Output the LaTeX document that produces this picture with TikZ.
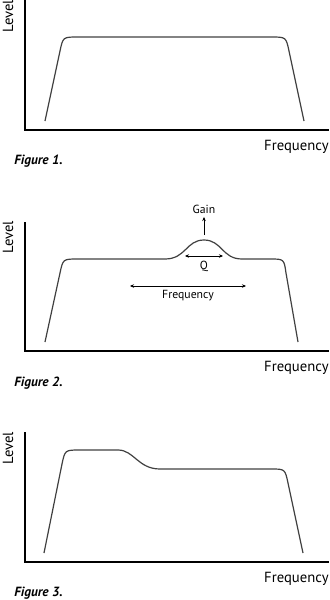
\documentclass[tikz,border=0pt]{standalone}
\usepackage{fontspec}
\setmainfont{PT Sans}
\usetikzlibrary{arrows.meta}

\begin{document}
\begin{tikzpicture}[x=0.75pt, y=-0.75pt, >={Stealth[length=3pt,width=2.6pt]}, semithick,
    axisline/.style={line width=1.5pt, black},
    curve/.style={line width=0.9pt, black!75},
    lbl/.style={font=\fontsize{11}{13}\selectfont, inner sep=0pt},
    small/.style={font=\fontsize{8.8}{10}\selectfont, inner sep=0pt},
    figcap/.style={font=\fontsize{10}{12}\selectfont\itshape\bfseries, inner sep=0pt, anchor=west}]
    \useasboundingbox (0,0) rectangle (329,600);

    % Figure 1
    \draw[axisline] (25,0) -- (25,130) -- (329,130);
    \draw[curve] (45,121) -- (60,51) .. controls (63,37) .. (78,37) -- (271,37)
        .. controls (286,37) .. (289,51) -- (304,121);
    \node[lbl, rotate=90] (levA) at (8,16) {Level};
    \node[lbl, anchor=east] (freqA) at (329,147) {Frequency};
    \node[figcap] (figA) at (14,161) {Figure 1.};

    % Figure 2
    \draw[axisline] (25,222) -- (25,351) -- (329,351);
    \draw[curve] (45,342) -- (60,273) .. controls (63,259) .. (78,259) -- (165,259)
        .. controls (186,259) and (186,240) .. (204,240)
        .. controls (222,240) and (222,259) .. (242,259) -- (270,259)
        .. controls (284,259) .. (286,273) -- (298,342);
    \node[lbl, rotate=90] (levB) at (8,237) {Level};
    \node[lbl, anchor=east] (freqB) at (329,368) {Frequency};
    \node[figcap] (figB) at (14,383) {Figure 2.};
    \node[small] (gain) at (204,209) {Gain};
    \coordinate (peak) at (204,235);
    \draw[->, thin] (peak) -- ([yshift=-2.5pt]gain.south);
    \coordinate (qL) at (185,256);
    \coordinate (qR) at (223,256);
    \draw[<->, thin] (qL) -- (qR);
    \node[small] (q) at (204,266) {Q};
    \coordinate (fL) at (130,286);
    \coordinate (fR) at (246,286);
    \draw[<->, thin] (fL) -- (fR);
    \node[small] (band) at (188,296) {Frequency};

    % Figure 3
    \draw[axisline] (25,432) -- (25,562) -- (329,562);
    \draw[curve] (44,553) -- (62,464) .. controls (65,450) .. (80,450) -- (118,450)
        .. controls (134,450) and (138,469) .. (160,469) -- (271,469)
        .. controls (285,469) .. (288,483) -- (303,553);
    \node[lbl, rotate=90] (levC) at (8,448) {Level};
    \node[lbl, anchor=east] (freqC) at (329,579) {Frequency};
    \node[figcap] (figC) at (14,593) {Figure 3.};
\end{tikzpicture}
\end{document}
